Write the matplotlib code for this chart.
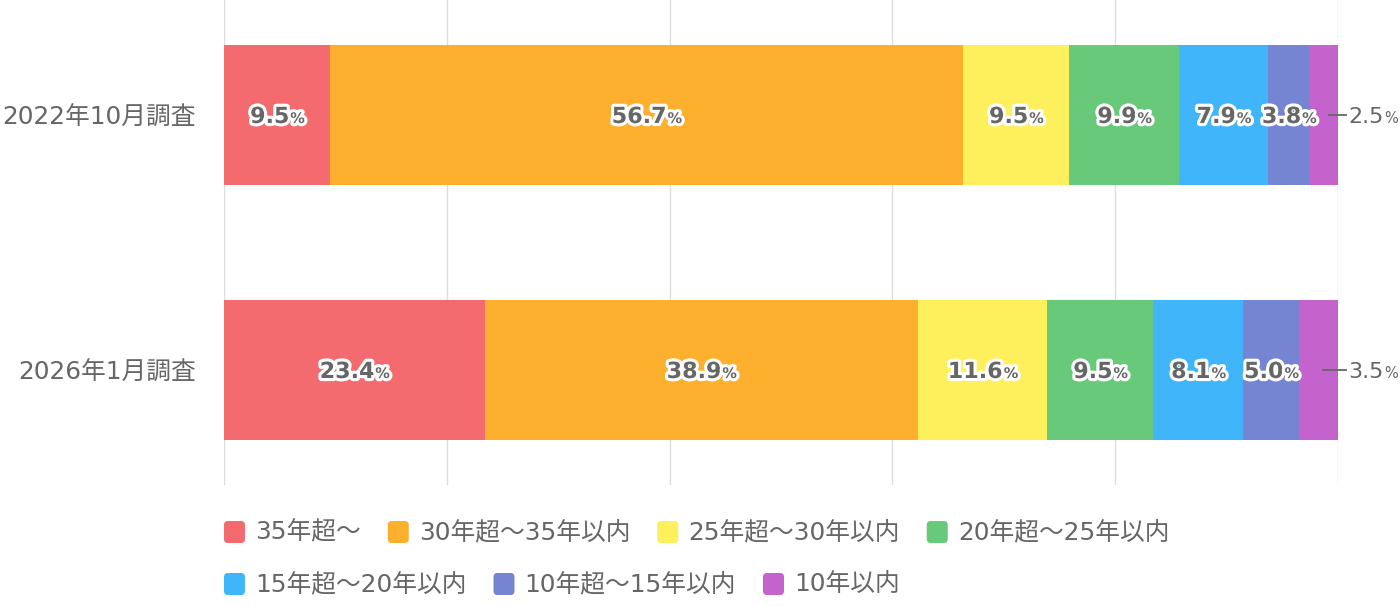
import matplotlib.pyplot as plt
import matplotlib.patheffects as pe
from matplotlib.patches import FancyBboxPatch
from matplotlib.transforms import IdentityTransform

# DejaVu for latin digits (wide, like the original), Noto CJK for kanji
plt.rcParams['font.family'] = ['DejaVu Sans', 'Noto Sans CJK JP']

# data
surveys = ["2022年10月調査", "2026年1月調査"]
categories = ["35年超～", "30年超～35年以内", "25年超～30年以内", "20年超～25年以内",
              "15年超～20年以内", "10年超～15年以内", "10年以内"]
values_2022 = [9.5, 56.7, 9.5, 9.9, 7.9, 3.8, 2.5]
values_2026 = [23.4, 38.9, 11.6, 9.5, 8.1, 5.0, 3.5]
colors = ["#F46B6F", "#FDB02E", "#FEEF5C", "#69C97B", "#40B5F9", "#7685D1", "#C463CC"]
grey = "#666666"

W, H = 1400, 606
fig = plt.figure(figsize=(W / 100, H / 100), dpi=100)
ax = fig.add_axes([224 / W, 1 - 485 / H, (1338 - 224) / W, 485 / H])

rows = [values_2022, values_2026]
for i, vals in enumerate(rows):
    total = sum(vals)
    left = 0
    for v, c in zip(vals, colors):
        w = v / total * 100
        ax.barh(i, w, left=left, height=140 / 255, color=c, zorder=2)
        left += w

ax.set_xlim(0, 100)
ax.set_ylim(1.451, -0.451)
ax.set_xticks([0, 20, 40, 60, 80, 100])
ax.set_xticklabels([])
ax.grid(axis='x', color='#dddddd', linewidth=1, zorder=0)
ax.tick_params(axis='x', length=0)
ax.set_yticks([0, 1])
ax.set_yticklabels(surveys, fontsize=17.8, color=grey)
ax.tick_params(axis='y', length=0, pad=20)
for s in ax.spines.values():
    s.set_visible(False)

fig.canvas.draw()
renderer = fig.canvas.get_renderer()
idt = IdentityTransform()


def pct_label(px, py, num, bold, outline, anchor='center'):
    kw = dict(color=grey, transform=idt, va='baseline', ha='left', zorder=5)
    if bold:
        kw['fontweight'] = 'bold'
    if outline:
        kw['path_effects'] = [pe.withStroke(linewidth=4.5, foreground='white')]
    t1 = fig.text(0, 0, num, fontsize=16, **kw)
    t2 = fig.text(0, 0, "%", fontsize=10.5, **kw)
    w1 = t1.get_window_extent(renderer).width
    w2 = t2.get_window_extent(renderer).width
    x0 = px - (w1 + w2) / 2 if anchor == 'center' else px
    base = py - 8
    t1.set_position((x0, base))
    t2.set_position((x0 + w1 + 1, base))


for i, vals in enumerate(rows):
    total = sum(vals)
    left = 0
    for k, v in enumerate(vals):
        w = v / total * 100
        if k == len(vals) - 1:
            # last segment labelled outside with a leader line
            cx, cy = ax.transData.transform((left + w, i))
            x_start = ax.transData.transform((left + w / 2 + 0.4, i))[0]
            fig.add_artist(plt.Line2D([x_start, cx + 8], [cy, cy], color=grey,
                                      linewidth=1.3, transform=idt, zorder=5))
            pct_label(cx + 10, cy, f"{v:.1f}", False, False, anchor='left')
        else:
            cx, cy = ax.transData.transform((left + w / 2, i))
            pct_label(cx, cy, f"{v:.1f}", True, True)
        left += w

# legend (flowing layout)
legend_rows = [[0, 1, 2, 3], [4, 5, 6]]
legend_y = [H - 532, H - 584]
for r, idxs in enumerate(legend_rows):
    x = 224
    y = legend_y[r]
    for k in idxs:
        sq = FancyBboxPatch((x + 2, y - 9), 17, 18, boxstyle="round,pad=2,rounding_size=4",
                            facecolor=colors[k], edgecolor='none', transform=idt)
        fig.add_artist(sq)
        t = fig.text(x + 31, y, categories[k], fontsize=17.8, color=grey,
                     va='center', ha='left', transform=idt)
        w = t.get_window_extent(renderer).width
        x = x + 31 + w + 27

fig.savefig("out.png", dpi=100)
